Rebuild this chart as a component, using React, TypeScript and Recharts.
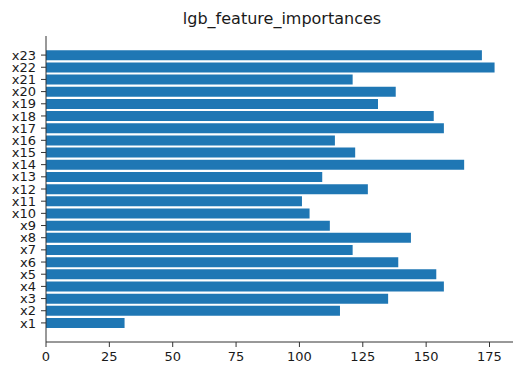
import React from 'react';
import { BarChart, Bar, XAxis, YAxis } from 'recharts';

const features = [
  'x1', 'x2', 'x3', 'x4', 'x5', 'x6', 'x7', 'x8', 'x9', 'x10', 'x11', 'x12',
  'x13', 'x14', 'x15', 'x16', 'x17', 'x18', 'x19', 'x20', 'x21', 'x22', 'x23',
];
const importances = [
  31, 116, 135, 157, 154, 139, 121, 144, 112, 104, 101, 127,
  109, 165, 122, 114, 157, 153, 131, 138, 121, 177, 172,
];
const xTicks = [0, 25, 50, 75, 100, 125, 150, 175];

const chartData = features.map((name, i) => ({ name, value: importances[i] }));

const FONT = '"DejaVu Sans", sans-serif';
const tickStyle = { fontSize: 13, fill: '#1a1a1a', fontFamily: FONT };

export default function App() {
  return (
    <div style={{ position: 'absolute', left: 0, top: 0, width: 513, height: 365, overflow: 'hidden', background: '#fff' }}>
      <div
        style={{
          position: 'absolute',
          left: 0,
          top: 9,
          width: 564,
          textAlign: 'center',
          fontFamily: FONT,
          fontSize: 16,
          lineHeight: '20px',
          color: '#1a1a1a',
        }}
      >
        lgb_feature_importances
      </div>
      <BarChart
        width={530}
        height={365}
        data={chartData}
        layout="vertical"
        margin={{ top: 36, right: 13, left: 0, bottom: 0 }}
        barCategoryGap="10%"
      >
        <XAxis
          type="number"
          domain={[0, 185.85]}
          ticks={xTicks}
          height={23}
          tickSize={5}
          tickMargin={5}
          tick={tickStyle}
          stroke="#333"
          allowDataOverflow
        />
        <XAxis
          xAxisId="top"
          type="number"
          orientation="top"
          domain={[0, 185.85]}
          height={0}
          tick={false}
          tickLine={false}
          stroke="#333"
        />
        <YAxis
          type="category"
          dataKey="name"
          reversed
          width={46}
          interval={0}
          padding={{ top: 13, bottom: 13 }}
          tickSize={5}
          tickMargin={5}
          tick={tickStyle}
          stroke="#333"
        />
        <Bar dataKey="value" fill="#1f77b4" isAnimationActive={false} />
      </BarChart>
    </div>
  );
}
